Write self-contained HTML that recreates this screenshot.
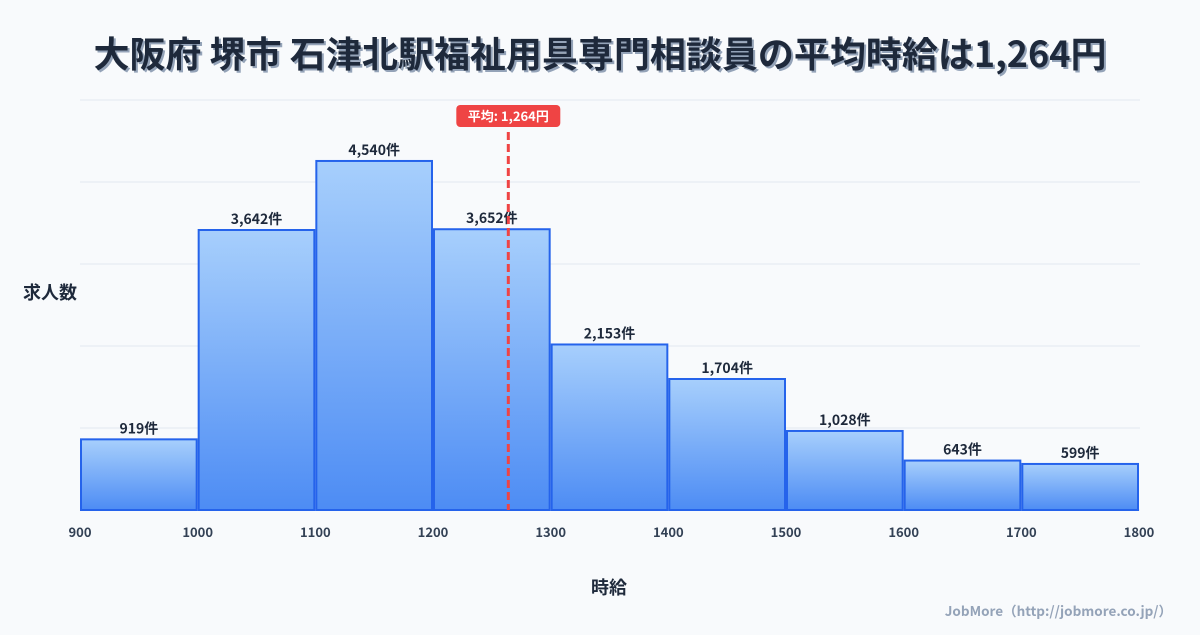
<!DOCTYPE html>
<html><head><meta charset="utf-8"><style>
body{margin:0;width:1200px;height:630px;background:#f8fafc;overflow:hidden;font-family:"Noto Sans CJK JP","Liberation Sans",sans-serif;}
svg text{font-family:"Noto Sans CJK JP","Liberation Sans",sans-serif;}
</style></head><body>
<svg id="c" width="1200" height="630">
<defs><linearGradient id="g" x1="0" y1="0" x2="0" y2="1"><stop offset="0" stop-color="#a7cffc"/><stop offset="1" stop-color="#4d8cf4"/></linearGradient></defs>
<text x="600" y="67" text-anchor="middle" font-size="36" font-weight="bold" fill="#94a3b8" transform="translate(2,2)">大阪府 堺市 石津北駅福祉用具専門相談員の平均時給は1,264円</text>
<text x="600" y="67" text-anchor="middle" font-size="36" font-weight="bold" fill="#1e293b">大阪府 堺市 石津北駅福祉用具専門相談員の平均時給は1,264円</text>
<g id="grid"></g><g id="bars"></g><g id="xt"></g>
<text x="50" y="299" text-anchor="middle" font-size="18" font-weight="bold" fill="#1e293b">求人数</text>
<text x="609" y="594" text-anchor="middle" font-size="18" font-weight="bold" fill="#1e293b">時給</text>
<text x="1172" y="616" text-anchor="end" font-size="13.5" font-weight="bold" fill="#94a3b8">JobMore（http://jobmore.co.jp/）</text>
<g id="mean"></g>
</svg>
<script>
const binStarts=[900,1000,1100,1200,1300,1400,1500,1600,1700];
const counts=[919,3642,4540,3652,2153,1704,1028,643,599];
const xTicks=[900,1000,1100,1200,1300,1400,1500,1600,1700,1800];
const meanValue=1264;
const NS="http://www.w3.org/2000/svg";
const x=v=>80+(v-900)*(1059/900);
const yMax=5333;
const y=v=>510-v*(410/yMax);
function mk(t,a,p){const e=document.createElementNS(NS,t);for(const k in a)e.setAttribute(k,a[k]);p.appendChild(e);return e;}
const grid=document.getElementById('grid');
for(let i=0;i<=5;i++){const yy=510-i*82;const l=mk('line',{x1:80,x2:1140,y1:yy,y2:yy,stroke:'#e2e8f0','stroke-width':1},grid);

}
const bars=document.getElementById('bars');
binStarts.forEach((b,i)=>{const x0=x(b)+1,x1=x(b+100)-1,yt=y(counts[i]);
const r=mk('rect',{x:x0,y:yt,width:x1-x0,height:510-yt,fill:'url(#g)',stroke:'#2563eb','stroke-width':2},bars);


const t=mk('text',{x:(x0+x1)/2,y:yt-6,'text-anchor':'middle','font-size':14,'font-weight':'bold',fill:'#1e293b'},bars);
t.textContent=counts[i].toLocaleString('en-US')+'件';

});
const xt=document.getElementById('xt');
xTicks.forEach(v=>{const t=mk('text',{x:x(v),y:537,'text-anchor':'middle','font-size':13,'font-weight':'bold',fill:'#334155'},xt);t.textContent=v;

});
const m=document.getElementById('mean');const mx=x(meanValue);
const ml=mk('line',{x1:mx,x2:mx,y1:132,y2:510,stroke:'#ef4444','stroke-width':3,'stroke-dasharray':'8,4'},m);


const mb=mk('rect',{x:mx-52,y:105,width:104,height:22,rx:4,fill:'#ef4444'},m);


const mt=mk('text',{x:mx,y:121,'text-anchor':'middle','font-size':13,'font-weight':'bold',fill:'#fff'},m);
mt.textContent='平均: '+meanValue.toLocaleString('en-US')+'円';


</script>
</body></html>
